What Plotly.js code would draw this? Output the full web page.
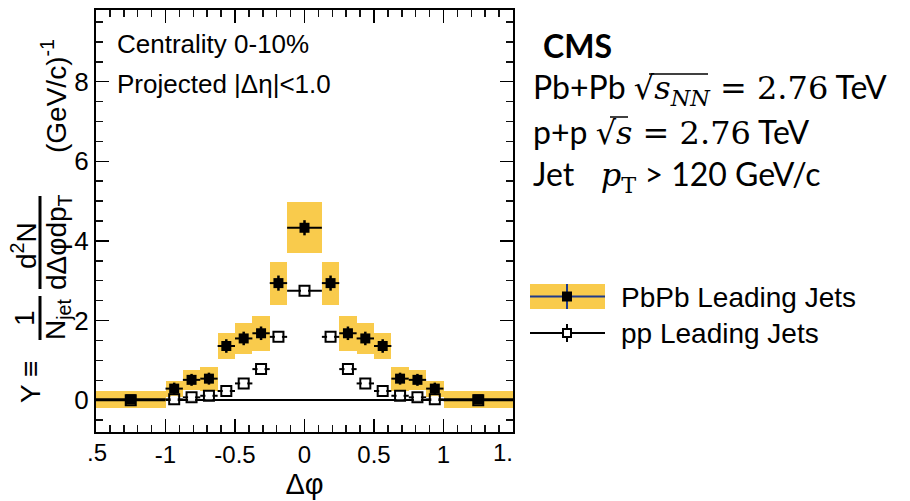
<!DOCTYPE html>
<html>
<head>
<meta charset="utf-8">
<script src="https://cdn.plot.ly/plotly-3.0.1.min.js"></script>
<style>html,body{margin:0;padding:0;background:#fff;}#chart{width:910px;height:501px;}</style>
</head>
<body>
<div id="chart"></div>
<script>
// ---- data ----
const dphi = [-1.25, -0.9375, -0.8125, -0.6875, -0.5625, -0.4375, -0.3125, -0.1875, 0, 0.1875, 0.3125, 0.4375, 0.5625, 0.6875, 0.8125, 0.9375, 1.25];
const binHalfWidth = [0.25, 0.0625, 0.0625, 0.0625, 0.0625, 0.0625, 0.0625, 0.0625, 0.125, 0.0625, 0.0625, 0.0625, 0.0625, 0.0625, 0.0625, 0.0625, 0.25];
const pbpbY = [0.02, 0.29, 0.51, 0.54, 1.36, 1.55, 1.68, 2.94, 4.33, 2.94, 1.68, 1.55, 1.36, 0.54, 0.51, 0.29, 0.02];
const pbpbStat = [0.05, 0.15, 0.15, 0.15, 0.17, 0.17, 0.17, 0.19, 0.19, 0.19, 0.17, 0.17, 0.17, 0.15, 0.15, 0.15, 0.05];
const pbpbSys = [0.21, 0.2, 0.26, 0.3, 0.33, 0.39, 0.44, 0.54, 0.64, 0.54, 0.44, 0.39, 0.33, 0.3, 0.26, 0.2, 0.21];
const ppY = [0.0, 0.02, 0.07, 0.11, 0.23, 0.42, 0.78, 1.59, 2.75, 1.59, 0.78, 0.42, 0.23, 0.11, 0.07, 0.02, 0.0];
// tick label aliases (outermost labels are cut in the reference, drawn separately)
const xTickAlias = { '−1.5': ' ', '1.5': ' ', '−1': '-1', '−0.5': '-0.5' };
const seriesNames = ['PbPb Leading Jets', 'pp Leading Jets'];
const xRange = [-1.5, 1.5];
const yRange = [-0.8, 9.8];
const xMinorStep = 0.1;
const yMinorStep = 0.5;

const YELLOW = '#F9CB4C';
const NAVY = '#1F3A8A';

// plot area in pixels
const L = 96, R = 513, T = 10, B = 432;
const px = x => (x - L) / (R - L);
const py = y => (B - y) / (B - T);

const sysBase = pbpbY.map((v, i) => v - pbpbSys[i]);
const sysLen = pbpbSys.map(s => 2 * s);
const binWidth = binHalfWidth.map(h => 2 * h);

const traces = [
  { type: 'bar', x: dphi, y: sysLen, base: sysBase, width: binWidth,
    marker: { color: YELLOW, line: { width: 0 } }, hoverinfo: 'skip', showlegend: false },
  { type: 'scatter', mode: 'markers', x: dphi, y: ppY, name: seriesNames[1],
    marker: { symbol: 'square-open', size: 10, color: '#000', line: { width: 2, color: '#000' } },
    error_x: { type: 'data', array: binHalfWidth, color: '#000', thickness: 2, width: 0 },
    showlegend: false },
  { type: 'scatter', mode: 'markers', x: dphi, y: ppY, hoverinfo: 'skip',
    marker: { symbol: 'square', size: 7, color: '#fff' }, showlegend: false },
  { type: 'scatter', mode: 'markers', x: dphi, y: pbpbY, name: seriesNames[0],
    marker: { symbol: 'square', size: 10, color: '#000' },
    error_x: { type: 'data', array: binHalfWidth, color: '#000', thickness: 2, width: 0 },
    error_y: { type: 'data', array: pbpbStat, color: '#000', thickness: 2.5, width: 0 },
    showlegend: false }
];

const sf = 'Liberation Sans, Arial, sans-serif';
const cf = 'Lato, sans-serif';

function ann(text, x, y, size, opts) {
  return Object.assign({ text: text, xref: 'paper', yref: 'paper', x: px(x), y: py(y),
    showarrow: false, xanchor: 'left', yanchor: 'middle',
    font: { family: sf, size: size, color: '#000' } }, opts || {});
}
function rot(text, x, y, size) {
  return ann(text, x, y, size, { xanchor: 'center', yanchor: 'middle', textangle: -90 });
}
const cal = size => ({ font: { family: cf, size: size, color: '#000' } });

const annotations = [
  ann('Centrality 0-10%', 115, 44, 26),
  ann('Projected |Δη|<1.0', 115, 84, 26),
  // clipped end tick labels
  ann('.5', 97, 452, 24, { xanchor: 'center' }),
  ann('1.', 503, 452, 24, { xanchor: 'center' }),
  // right-side texts
  ann('<b>CMS</b>', 541, 45, 32, cal(32)),
  ann('Pb+Pb <span style="font-family:DejaVu Serif">√<i>s</i><sub><i>NN</i></sub> = 2.76</span> TeV', 531, 89, 32, cal(32)),
  ann('p+p <span style="font-family:DejaVu Serif">√<i>s</i> = 2.76</span> TeV', 531, 132, 32, cal(32)),
  ann('Jet  <span style="font-family:DejaVu Serif">&nbsp;<i>p</i><sub>T</sub></span> &gt; 120 GeV/c', 531, 176, 32, cal(32)),
  // legend texts
  ann(seriesNames[0], 619, 297, 28),
  ann(seriesNames[1], 619, 333, 28),
  // y-axis title pieces
  rot('Y ≡', 30, 382, 28),
  rot('1', 24, 318, 28),
  rot('N<sub>jet</sub>', 58, 320, 28),
  rot('d<sup>2</sup>N', 24, 246, 28),
  rot('dΔφdp<sub>T</sub>', 58, 242, 28),
  rot('(GeV/c)<sup>-1</sup>', 54, 96, 28)
];

const shapes = [
  // y title fraction bars
  { type: 'line', xref: 'paper', yref: 'paper', x0: px(40), x1: px(40), y0: py(296), y1: py(340), line: { color: '#000', width: 3 } },
  { type: 'line', xref: 'paper', yref: 'paper', x0: px(40), x1: px(40), y0: py(196), y1: py(289), line: { color: '#000', width: 3 } },
  // square-root overlines
  { type: 'line', xref: 'paper', yref: 'paper', x0: px(649), x1: px(708), y0: py(74), y1: py(74), line: { color: '#000', width: 1.5 } },
  { type: 'line', xref: 'paper', yref: 'paper', x0: px(610), x1: px(628), y0: py(117), y1: py(117), line: { color: '#000', width: 1.5 } },
  // legend: PbPb
  { type: 'rect', xref: 'paper', yref: 'paper', x0: px(530), x1: px(605), y0: py(284), y1: py(309), fillcolor: YELLOW, line: { width: 0 } },
  { type: 'line', xref: 'paper', yref: 'paper', x0: px(530), x1: px(605), y0: py(296.5), y1: py(296.5), line: { color: NAVY, width: 2 } },
  { type: 'line', xref: 'paper', yref: 'paper', x0: px(567), x1: px(567), y0: py(284), y1: py(309), line: { color: NAVY, width: 2 } },
  { type: 'rect', xref: 'paper', yref: 'paper', x0: px(562), x1: px(572), y0: py(291.5), y1: py(301.5), fillcolor: '#000', line: { width: 0 } },
  // legend: pp
  { type: 'line', xref: 'paper', yref: 'paper', x0: px(530), x1: px(605), y0: py(333), y1: py(333), line: { color: '#000', width: 2 } },
  { type: 'line', xref: 'paper', yref: 'paper', x0: px(567), x1: px(567), y0: py(324), y1: py(342), line: { color: '#000', width: 2 } },
  { type: 'rect', xref: 'paper', yref: 'paper', x0: px(563), x1: px(571), y0: py(329), y1: py(337), fillcolor: '#fff', line: { color: '#000', width: 2 } }
];

const layout = {
  width: 910, height: 501,
  margin: { l: L, r: 910 - R, t: T, b: 501 - B },
  paper_bgcolor: '#fff', plot_bgcolor: '#fff',
  showlegend: false,
  bargap: 0,
  xaxis: {
    range: xRange, tickmode: 'linear', tick0: -1.5, dtick: 0.5, labelalias: xTickAlias,
    ticks: 'inside', ticklen: 13, tickwidth: 1.5, tickcolor: '#000',
    minor: { ticks: 'inside', ticklen: 7, dtick: xMinorStep, tickcolor: '#111' },
    showline: true, linecolor: '#000', linewidth: 2, mirror: 'allticks',
    showgrid: false, zeroline: false, tickfont: { family: sf, size: 24, color: '#000' },
    title: { text: 'Δφ', font: { family: sf, size: 29, color: '#000' }, standoff: 4 }
  },
  yaxis: {
    range: yRange, tickmode: 'linear', tick0: 0, dtick: 2,
    ticks: 'inside', ticklen: 13, tickwidth: 1.5, tickcolor: '#000',
    minor: { ticks: 'inside', ticklen: 7, dtick: yMinorStep, tickcolor: '#111' },
    showline: true, linecolor: '#000', linewidth: 2, mirror: 'allticks',
    showgrid: false, zeroline: true, zerolinecolor: '#000', zerolinewidth: 2,
    tickfont: { family: sf, size: 26, color: '#000' }
  },
  annotations: annotations,
  shapes: shapes
};

Plotly.newPlot('chart', traces, layout, { displayModeBar: false, staticPlot: true });
</script>
</body>
</html>
